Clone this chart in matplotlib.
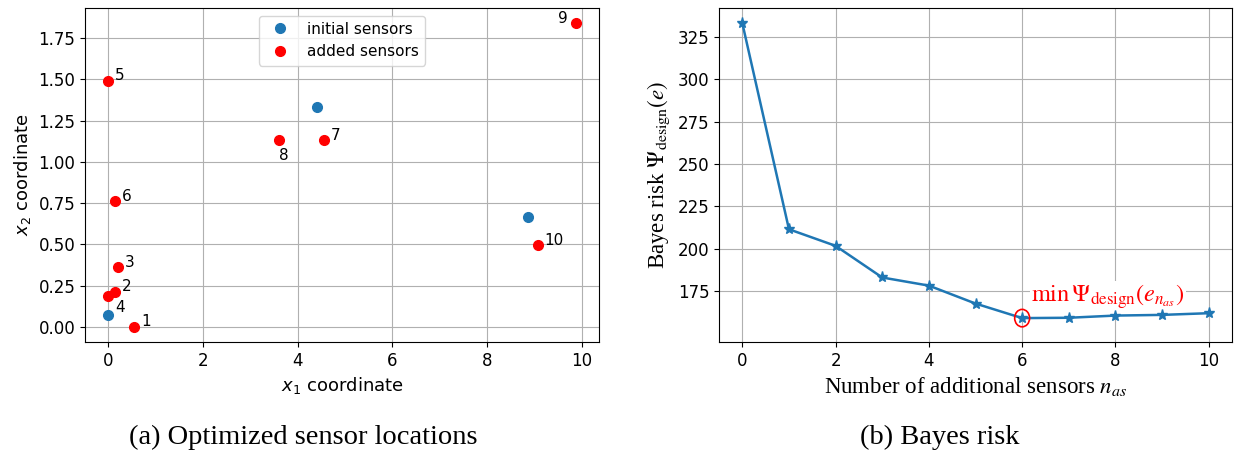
import matplotlib
matplotlib.use("Agg")
import matplotlib.pyplot as plt
from matplotlib.patches import Ellipse

# sensor locations
init_x = [0.0, 4.40, 8.87]
init_y = [0.069, 1.332, 0.666]
added_x = [0.54, 0.14, 0.21, 0.0, 0.0, 0.14, 4.55, 3.61, 9.87, 9.07]
added_y = [0.0, 0.212, 0.36, 0.186, 1.493, 0.761, 1.133, 1.133, 1.841, 0.494]
added_labels = ["1", "2", "3", "4", "5", "6", "7", "8", "9", "10"]
# label offsets (points)
label_offsets = [(8.5, 3.5), (8.5, 4), (8.5, 3.5), (8.5, -8), (8.5, 3.5),
                 (8.5, 3.5), (8.5, 3.5), (3.5, -11.5), (-9, 3.5), (12, 3.5)]

# Bayes risk
n_as = [0, 1, 2, 3, 4, 5, 6, 7, 8, 9, 10]
risk = [333.2, 211.4, 201.6, 182.9, 178.1, 167.5, 158.9, 159.1, 160.4, 160.8, 161.8]

serif = "Liberation Serif"

fig = plt.figure(figsize=(12.35, 4.55), dpi=100)
ax1 = fig.add_axes([85/1235, 113/455, 514/1235, 334/455])
ax2 = fig.add_axes([719/1235, 113/455, 513/1235, 334/455])

# (a) sensor locations
ax1.plot(init_x, init_y, "o", color="tab:blue", markersize=7, label="initial sensors")
ax1.plot(added_x, added_y, "o", color="red", markersize=7, label="added sensors")
for x, y, lab, off in zip(added_x, added_y, added_labels, label_offsets):
    ax1.annotate(lab, (x, y), xytext=off, textcoords="offset points",
                 ha="center", va="center", fontsize=11)
ax1.set_xlabel("$x_1$ coordinate", fontsize=13)
ax1.set_ylabel("$x_2$ coordinate", fontsize=13)
ax1.tick_params(labelsize=12)
ax1.set_xticks([0, 2, 4, 6, 8, 10])
ax1.grid(True)
ax1.legend(loc="upper center", fontsize=11)

# (b) Bayes risk
ax2.plot(n_as, risk, "-*", color="tab:blue", linewidth=1.8, markersize=8, zorder=3)
ax2.add_patch(Ellipse((n_as[6], risk[6]), 0.32, 10.3, fill=False, edgecolor="red",
                      linewidth=1.2, zorder=4))
# white box hides the grid behind the note, but stays under the curve
ax2.text(6.2, 171.5, r"$\min\,\Psi_{\rm design}\left(e_{n_{as}}\right)$", color="red",
         fontsize=17.5, math_fontfamily="stix", ha="left", va="center", zorder=2,
         bbox=dict(facecolor="white", edgecolor="none", pad=1))
ax2.set_xlabel(r"Number of additional sensors $n_{as}$", fontsize=16.5,
               family=serif, math_fontfamily="stix")
ax2.set_ylabel(r"Bayes risk $\Psi_{\rm design}(e)$", fontsize=16.5,
               family=serif, math_fontfamily="stix")
ax2.tick_params(labelsize=12)
ax2.set_xticks([0, 2, 4, 6, 8, 10])
ax2.set_yticks([175, 200, 225, 250, 275, 300, 325])
ax2.grid(True)

# captions
fig.text(303/1235, 1 - 437/455, "(a) Optimized sensor locations", family=serif,
         fontsize=20.5, ha="center", va="center")
fig.text(940/1235, 1 - 437/455, "(b) Bayes risk", family=serif,
         fontsize=20.5, ha="center", va="center")

fig.savefig("out.png", dpi=100)
